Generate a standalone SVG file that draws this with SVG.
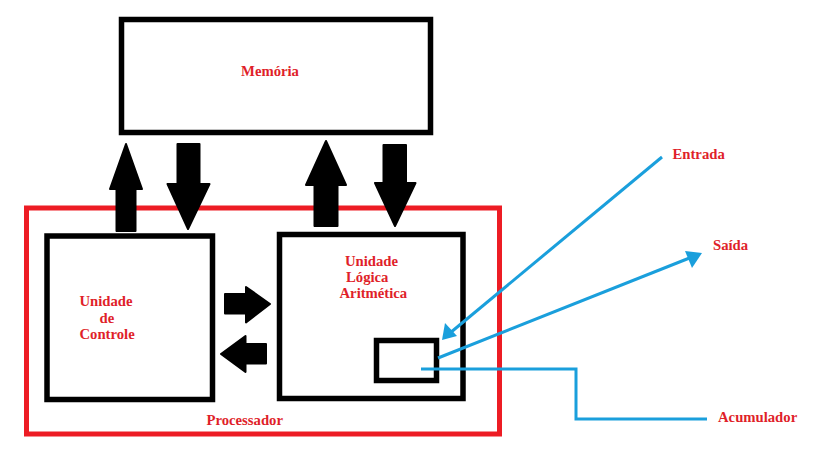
<svg xmlns="http://www.w3.org/2000/svg" width="825" height="455" viewBox="0 0 825 455">
<style>
.box{fill:none;stroke:#000;stroke-width:5.5}
.red{fill:none;stroke:#ed1c24;stroke-width:5}
.t{font-family:"Liberation Serif","Times New Roman",serif;font-weight:bold;font-size:14.7px;fill:#e01f2a}
.arr{fill:#000;stroke:#000;stroke-width:2;stroke-linejoin:round}
.bl{fill:none;stroke:#1a9fdc;stroke-width:3}
.bh{fill:#1a9fdc}
</style>
<rect width="825" height="455" fill="#fff"/>
<g id="processador">
<rect class="red" x="26.5" y="208" width="473" height="226"/>
<text class="t" x="206.5" y="425">Processador</text>
</g>
<g id="memoria">
<rect class="box" x="121.5" y="19.5" width="309" height="113"/>
<text class="t" x="270" y="75.5" text-anchor="middle">Memória</text>
</g>
<g id="controle">
<rect class="box" x="47" y="236" width="165.5" height="163.5"/>
<text class="t" x="79.5" y="305.5">Unidade</text>
<text class="t" x="99.5" y="323">de</text>
<text class="t" x="79.5" y="339">Controle</text>
</g>
<g id="ula">
<rect class="box" x="279.5" y="234.5" width="183.5" height="164"/>
<text class="t" x="345" y="266">Unidade</text>
<text class="t" x="346" y="281.5">Lógica</text>
<text class="t" x="339.5" y="297.5">Aritmética</text>
</g>
<g id="acumulador">
<rect class="box" x="376.5" y="340.5" width="60" height="40"/>
</g>
<g id="entrada"><text class="t" x="672.5" y="158.5">Entrada</text></g>
<g id="saida"><text class="t" x="713" y="250">Saída</text></g>
<g id="acumulador-label"><text class="t" x="718" y="421.5">Acumulador</text></g>
<g id="connectors">
<polygon class="arr" points="126,144 142,189 135.5,189 135.5,231 116.5,231 116.5,189 110,189"/>
<polygon class="arr" points="177.5,144 199.5,144 199.5,184 209.5,184 188,229 167.5,184 177.5,184"/>
<polygon class="arr" points="326,141 346,185 337.5,185 337.5,226 314.5,226 314.5,185 306,185"/>
<polygon class="arr" points="383.5,145 406,145 406,183 415.5,183 395,226 375,183 383.5,183"/>
<polygon class="arr" points="225,294 246,294 246,287 270,304 246,322.5 246,313.5 225,313.5"/>
<polygon class="arr" points="266,344 245.5,344 245.5,336 221,354 245.5,372 245.5,363.5 266,363.5"/>
<line class="bl" x1="662" y1="157" x2="450" y2="333"/>
<polygon class="bh" points="442,340 445,323 457,336"/>
<line class="bl" x1="438" y1="358" x2="692" y2="257"/>
<polygon class="bh" points="702,253 685,251 692,268"/>
<polyline class="bl" points="421,369 576,369 576,419 707,419"/>
</g>
</svg>
